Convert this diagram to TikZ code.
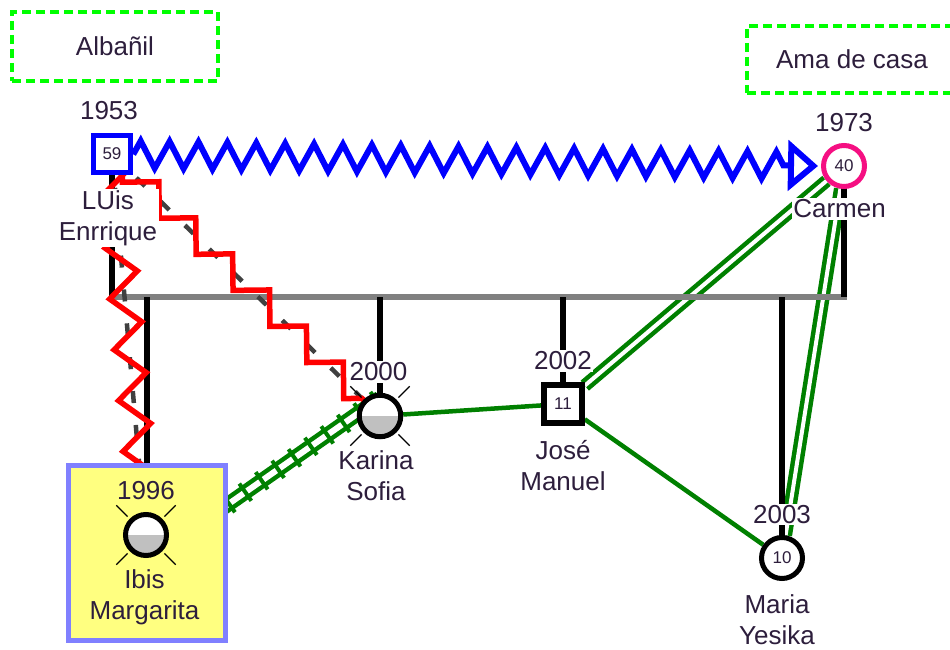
\documentclass[tikz,border=0pt]{standalone}
\usepackage{fontspec}
\setmainfont{Liberation Sans}
\usetikzlibrary{decorations.pathmorphing,decorations.pathreplacing,arrows.meta,calc}
\pgfdeclarelayer{lgreen}
\pgfdeclarelayer{lbar}
\pgfdeclarelayer{lfront}
\pgfsetlayers{lgreen,lbar,lfront,main}
\definecolor{txtc}{RGB}{45,30,60}
\definecolor{occg}{RGB}{0,255,0}
\definecolor{pblue}{RGB}{0,0,255}
\definecolor{ppink}{RGB}{245,15,130}
\definecolor{relg}{RGB}{0,128,0}
\definecolor{ibisy}{RGB}{255,255,128}
\definecolor{ibisb}{RGB}{128,128,255}
\definecolor{halfg}{RGB}{192,192,192}
\definecolor{barg}{RGB}{128,128,128}
\definecolor{dashg}{RGB}{64,64,64}
\begin{document}
\begin{tikzpicture}[x=1pt,y=-1pt,
  every node/.style={text=txtc},
  font=\fontsize{26}{31}\selectfont,
  occbox/.style={rectangle, draw=occg, line width=4.5pt, dash pattern=on 9pt off 5pt, inner sep=0pt},
  lab/.style={fill=white, inner sep=1.5pt, align=center},
  labnf/.style={inner sep=1.5pt, align=center},
  numf/.style={font=\fontsize{17}{20}\selectfont},
  malebox/.style={rectangle, draw=black, line width=5.5pt, fill=white, inner sep=0pt, numf},
  femcirc/.style={circle, draw=black, line width=5pt, fill=white, inner sep=0pt, numf},
  ibisbox/.style={rectangle, draw=ibisb, fill=ibisy, line width=5pt, inner sep=0pt},
  halfgray/.style={path picture={\fill[halfg] (path picture bounding box.west) rectangle (path picture bounding box.south east);}},
  ray/.style={draw=black, line width=1.4pt},
  kid/.style={draw=black, line width=5.5pt},
  barline/.style={draw=barg, line width=5.5pt, line cap=rect},
  gline/.style={draw=relg, line width=4.5pt},
  gdouble/.style={draw=relg, line width=4.5pt, double=white, double distance=4pt},
  railw/.style={draw=relg, line width=4.5pt, double=white, double distance=6pt},
  railties/.style={draw=relg, line width=4pt, decorate, decoration={ticks, segment length=20pt, amplitude=10.5pt}},
  dashrel/.style={draw=dashg, line width=4.5pt, dash pattern=on 12pt off 22pt},
  redstair/.style={draw=red, line width=5.5pt, decorate, decoration={zigzag, segment length=51.6pt, amplitude=12.9pt, pre length=14.2pt, mirror}},
  redzig/.style={draw=red, line width=5.5pt, decorate, decoration={zigzag, segment length=51pt, amplitude=15pt, pre length=4pt}},
  bluezig/.style={draw=pblue, line width=6pt, decorate, decoration={zigzag, segment length=28.9pt, amplitude=13.5pt, post length=28pt}, -{Triangle[open, length=30pt, width=50pt]}}
]
\useasboundingbox (0,0) rectangle (950,650);
\coordinate (barY) at (0,297);

% occupations
\node[occbox, minimum width=206pt, minimum height=69pt] (alb) at (115,46.5) {Albañil};
\node[occbox, minimum width=210pt, minimum height=67pt] (ama) at (852,59.5) {Ama de casa};

% persons
\node[malebox, draw=pblue, minimum size=37pt] (LUis) at (112,154) {59};
\node[femcirc, draw=ppink, minimum size=41pt] (Carmen) at (844,166) {40};
\node[femcirc, halfgray, minimum size=41.5pt] (Karina) at (380,416) {};
\node[malebox, minimum size=38pt] (Jose) at (563,404) {11};
\node[femcirc, minimum size=41pt] (Maria) at (782,558) {10};
\node[ibisbox, minimum width=157pt, minimum height=175pt] (Ibis) at (147,553) {};
\node[femcirc, halfgray, minimum size=41pt] (IbisC) at (146,535) {};

\foreach \c in {Karina,IbisC}{
  \foreach \a in {45,135,225,315}{
    \draw[ray] ($(\c.center)+(\a:26)$) -- ($(\c.center)+(\a:42)$);
  }
}

% labels
\node[lab] (tLUisY) at (109,111) {1953};
\node[lab] (tLUisN) at (108,218) {LUis\\Enrrique};
\node[lab] (tCarY) at (844,123) {1973};
\node[lab] (tCarN) at (839.5,209) {Carmen};
\node[lab] (tKarY) at (378.5,372) {2000};
\node[lab] (tKarN) at (376,476) {Karina\\Sofia};
\node[lab] (tJosY) at (563,361) {2002};
\node[lab] (tJosN) at (563,466) {José\\Manuel};
\node[lab] (tMarY) at (782,514.5) {2003};
\node[lab] (tMarN) at (777,620) {Maria\\Yesika};
\node[labnf] (tIbiY) at (146,491) {1996};
\node[labnf] (tIbiN) at (144.5,597) {Ibis\\Margarita};

% green relations
\coordinate (rA) at ($(Ibis.center)+(0,8)$);
\coordinate (rB) at ($(Karina.center)+(0,-18)$);
\begin{pgfonlayer}{lgreen}
  \draw[gline] (Karina) -- (Jose);
  \draw[gline] (Jose) -- (Maria);
  \draw[gdouble] (Jose) -- (Carmen);
  \draw[gdouble] (Maria) -- (Carmen);
  \draw[railw] (rA) -- (rB);
  \draw[railties] (rA) -- (rB);
\end{pgfonlayer}

% family bar
\begin{pgfonlayer}{lbar}
  \draw[barline] (LUis.center |- barY) -- (Carmen.center |- barY);
  \draw[kid] (LUis.center) -- (LUis.center |- barY);
  \draw[kid] (Carmen.center) -- (Carmen.center |- barY);
  \draw[kid] (Ibis.north) -- (Ibis.north |- barY);
  \draw[kid] (Karina.center) -- (Karina.center |- barY);
  \draw[kid] (Jose.center) -- (Jose.center |- barY);
  \draw[kid] (Maria.center) -- (Maria.center |- barY);
\end{pgfonlayer}

% front relations
\begin{pgfonlayer}{lfront}
  \draw[dashrel] (LUis.center) -- (Karina.center);
  \draw[dashrel] (LUis.center) -- (Ibis.center);
  \draw[redstair] (LUis.center) -- (Karina.center);
  \draw[redzig] (LUis.center) -- (Ibis.center);
  \draw[bluezig] (LUis) -- ($(Carmen.west)+(-3,0)$);
\end{pgfonlayer}
\end{tikzpicture}
\end{document}
